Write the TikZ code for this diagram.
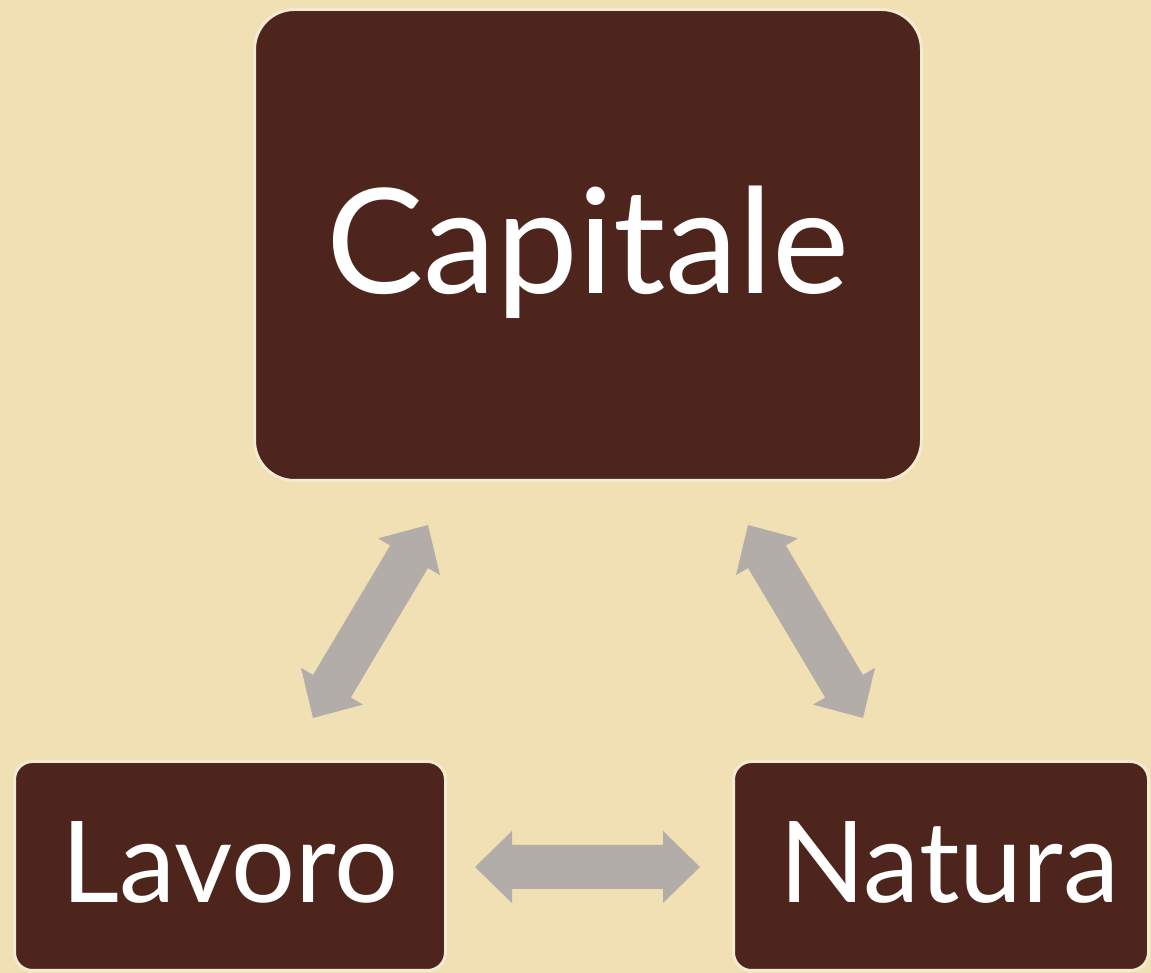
\documentclass[tikz,border=0pt]{standalone}
\usepackage{fontspec}
\setmainfont{Lato}
\usetikzlibrary{calc}

\definecolor{bgtan}{HTML}{F1E0B3}
\definecolor{boxbrown}{HTML}{4E251D}
\definecolor{boxedge}{HTML}{F3EAD2}
\definecolor{arrowgrey}{HTML}{B3ADAA}

% Double-headed block arrow between two tip coordinates
\newcommand\blockarrow[2]{%
  \coordinate (ha) at ($(#1)!37pt!(#2)$);
  \coordinate (hb) at ($(#2)!37pt!(#1)$);
  \fill[arrowgrey] (#1)
    -- ($(ha)!36pt!90:(#2)$) -- ($(ha)!22pt!90:(#2)$)
    -- ($(hb)!22pt!-90:(#1)$) -- ($(hb)!36pt!-90:(#1)$)
    -- (#2)
    -- ($(hb)!36pt!90:(#1)$) -- ($(hb)!22pt!90:(#1)$)
    -- ($(ha)!22pt!-90:(#2)$) -- ($(ha)!36pt!-90:(#2)$)
    -- cycle;}

\tikzset{
  box/.style={draw=boxedge, line width=3pt, fill=boxbrown, text=white,
    inner sep=0pt, outer sep=0pt, text depth=8pt},
  bigbox/.style={box, rounded corners=40pt, minimum width=667pt, minimum height=471pt,
    font=\fontsize{146}{150}\selectfont, text height=104.6pt},
  smallbox/.style={box, rounded corners=18pt, minimum width=431pt, minimum height=209pt,
    font=\fontsize{113}{116}\selectfont, text height=81pt},
}

\begin{document}
\begin{tikzpicture}[x=1pt, y=1pt]
  \fill[bgtan] (0,0) rectangle (1151,973);
  \useasboundingbox (0,0) rectangle (1151,973);

  \node[bigbox] (cap) at (588,728) {Capitale};
  \node[smallbox] (lav) at (230,107) {Lavoro};
  \node[smallbox, minimum width=415pt] (nat) at (941,107) {\hspace*{16pt}Natura};

  % arrow tips between the boxes
  \coordinate (capleft) at (428,448);
  \coordinate (lavtop) at (313,255);
  \coordinate (capright) at (748,448);
  \coordinate (nattop) at (863,255);
  \coordinate (lavright) at (475,106);
  \coordinate (natleft) at (700,106);

  \blockarrow{lavtop}{capleft}
  \blockarrow{capright}{nattop}
  \blockarrow{lavright}{natleft}
\end{tikzpicture}
\end{document}
